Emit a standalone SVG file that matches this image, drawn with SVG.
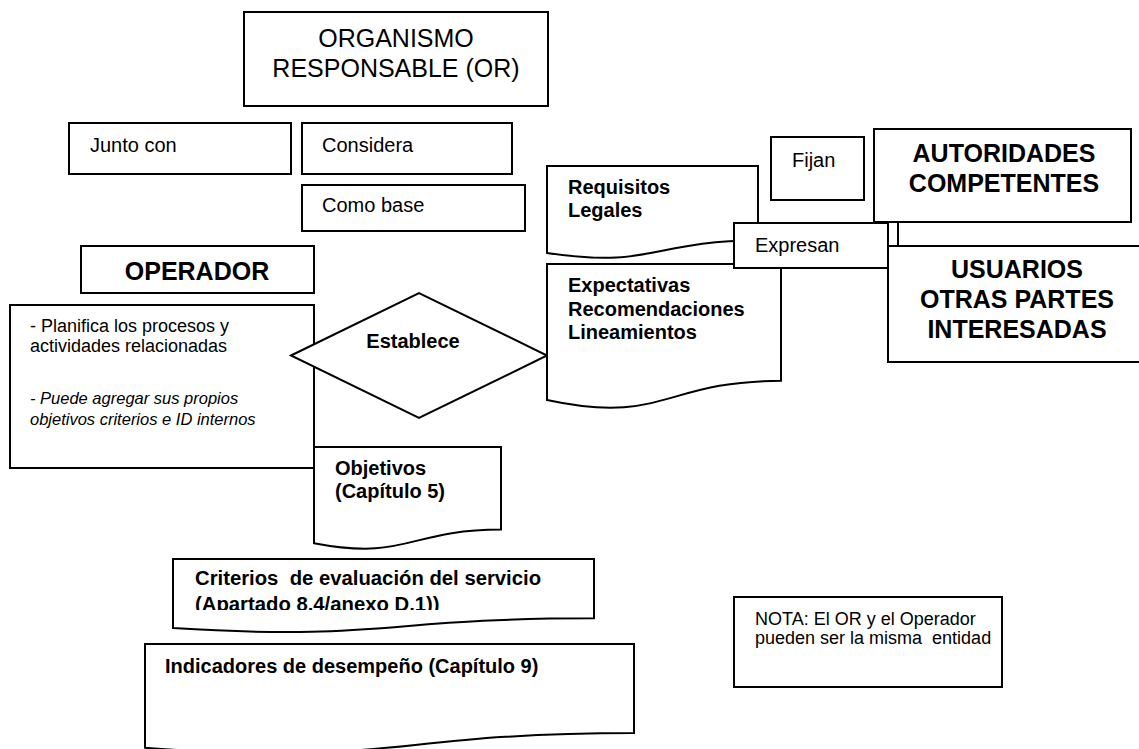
<svg xmlns="http://www.w3.org/2000/svg" width="1139" height="749" viewBox="0 0 1139 749">
<style>
.b{fill:#fff;stroke:#000;stroke-width:2}
.t{font-family:"Liberation Sans",Arial,sans-serif;fill:#000;white-space:pre}
.r20{font-size:20px}
.b20{font-size:20px;font-weight:bold}
.b25{font-size:25px;font-weight:bold}
</style>
<defs>
<clipPath id="clipCrit"><rect x="173" y="559" width="421" height="51"/></clipPath>
</defs>
<rect width="1139" height="749" fill="#fff"/>

<g id="organismo">
<rect class="b" x="244" y="12" width="304" height="94"/>
<text class="t" font-size="25" text-anchor="middle" x="396" y="47">ORGANISMO</text>
<text class="t" font-size="25" text-anchor="middle" x="396" y="77">RESPONSABLE (OR)</text>
</g>

<g id="junto">
<rect class="b" x="69" y="123" width="222" height="51"/>
<text class="t r20" x="90" y="152">Junto con</text>
</g>

<g id="considera">
<rect class="b" x="302" y="123" width="210" height="51"/>
<text class="t r20" x="322" y="152">Considera</text>
</g>

<g id="comobase">
<rect class="b" x="302" y="185" width="223" height="46"/>
<text class="t r20" x="322" y="212">Como base</text>
</g>

<g id="operador">
<rect class="b" x="81" y="246" width="233" height="47"/>
<text class="t" font-size="25" font-weight="bold" text-anchor="middle" x="197" y="280">OPERADOR</text>
</g>

<g id="planifica">
<rect class="b" x="10" y="305" width="304" height="163"/>
<text class="t" font-size="18" x="30" y="332">- Planifica los procesos y</text>
<text class="t" font-size="18" x="30" y="352">actividades relacionadas</text>
<text class="t" font-size="16.5" font-style="italic" x="30" y="404">- Puede agregar sus propios</text>
<text class="t" font-size="16.5" font-style="italic" x="30" y="425">objetivos criterios e ID internos</text>
</g>

<g id="objetivos">
<path class="b" d="M314,447 H501 V529.6 C407.5,529.6 407.5,561.1 314,543.2 Z"/>
<text class="t b20" x="335" y="475">Objetivos</text>
<text class="t b20" x="335" y="498">(Capítulo 5)</text>
</g>

<g id="establece">
<polygon class="b" points="291,355.5 419,293 547,355.5 419,418"/>
<text class="t b20" text-anchor="middle" x="413" y="348">Establece</text>
</g>

<g id="criterios">
<path class="b" d="M173,559 H594 V618.3 C383.5,618.3 383.5,641 173,628.1 Z"/>
<text class="t" font-size="20.3" font-weight="bold" x="195" y="585">Criterios  de evaluación del servicio</text>
<text class="t" font-size="20.3" font-weight="bold" x="195" y="611" clip-path="url(#clipCrit)">(Apartado 8.4/anexo D.1))</text>
</g>

<g id="indicadores">
<path class="b" d="M145,644 H634 V733 C389.5,733 389.5,766.9 145,747.7 Z"/>
<text class="t b20" x="165" y="673">Indicadores de desempeño (Capítulo 9)</text>
</g>

<g id="requisitos">
<path class="b" d="M547,166 H758 V240.6 C652.5,240.6 652.5,269 547,252.9 Z"/>
<text class="t b20" x="568" y="194">Requisitos</text>
<text class="t b20" x="568" y="217">Legales</text>
</g>

<g id="expectativas">
<path class="b" d="M547,264 H781 V380.8 C664,380.8 664,425.3 547,400 Z"/>
<text class="t b20" x="568" y="292">Expectativas</text>
<text class="t b20" x="568" y="316">Recomendaciones</text>
<text class="t b20" x="568" y="339">Lineamientos</text>
</g>

<g id="fijan">
<rect class="b" x="771" y="137" width="93" height="63"/>
<text class="t r20" x="792" y="167">Fijan</text>
</g>

<g id="autoridades">
<rect class="b" x="874" y="129" width="257" height="93"/>
<text class="t b25" text-anchor="middle" x="1004" y="162">AUTORIDADES</text>
<text class="t b25" text-anchor="middle" x="1004" y="192">COMPETENTES</text>
</g>

<g id="expresan">
<rect class="b" x="734" y="223" width="154" height="45"/>
<text class="t r20" x="755" y="252">Expresan</text>
</g>

<g id="connectors">
<rect class="b" x="888" y="222" width="10" height="24"/>
</g>

<g id="usuarios">
<rect class="b" x="888" y="246" width="262" height="116"/>
<text class="t b25" text-anchor="middle" x="1017" y="278">USUARIOS</text>
<text class="t b25" text-anchor="middle" x="1017" y="308">OTRAS PARTES</text>
<text class="t b25" text-anchor="middle" x="1017" y="338">INTERESADAS</text>
</g>

<g id="nota">
<rect class="b" x="734" y="597" width="268" height="90"/>
<text class="t" font-size="18" x="755" y="625">NOTA: El OR y el Operador</text>
<text class="t" font-size="18" x="755" y="644">pueden ser la misma  entidad</text>
</g>
</svg>
